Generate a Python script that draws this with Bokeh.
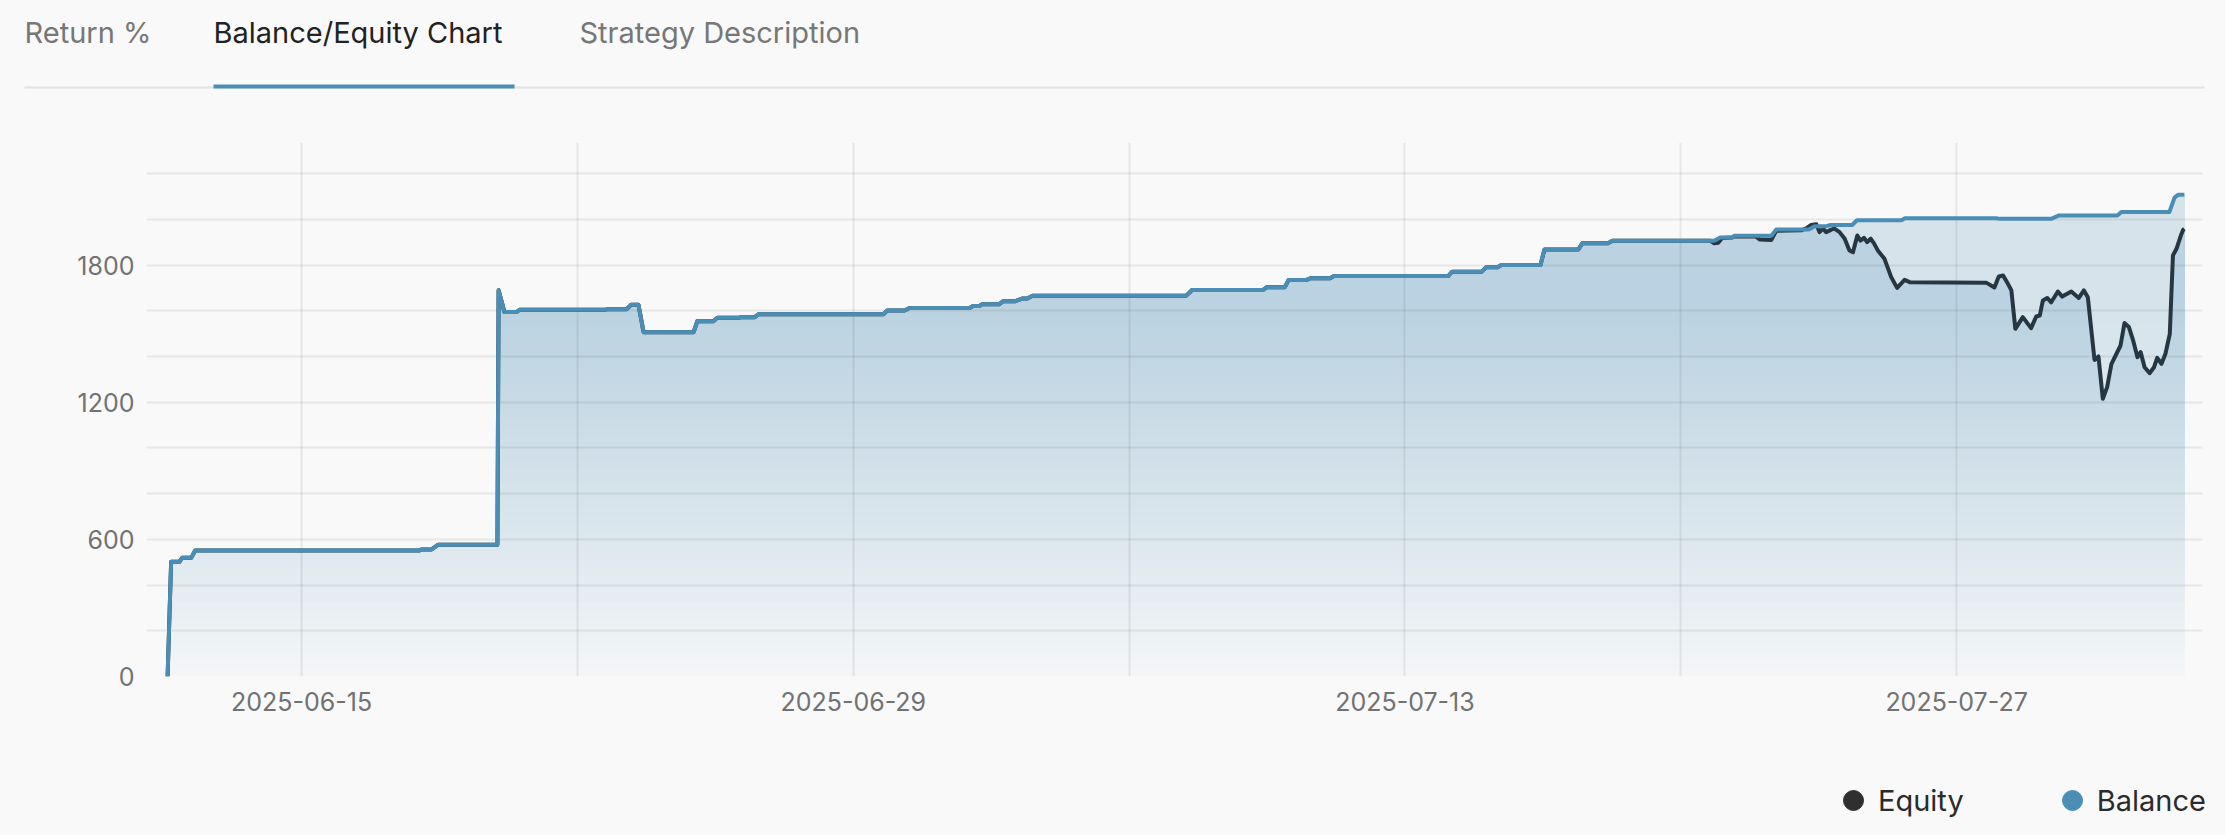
import numpy as np
import pandas as pd
from bokeh.plotting import figure
from bokeh.layouts import column
from bokeh.models import (Range1d, FixedTicker, DatetimeTickFormatter, Label,
                          BoxAnnotation, Legend, LegendItem, ColumnDataSource)
from bokeh.embed import file_html
from bokeh.resources import INLINE

# ---------------- data ----------------
# x values are days counted from 2025-06-15 00:00
BASE_DATE = "2025-06-15"

balance_day = [-3.40, -3.31, -3.10, -3.03, -2.80, -2.70, 2.98, 3.05, 3.30, 3.46,
               4.97, 5.00, 5.15, 5.45, 5.53, 7.70, 7.76, 8.25, 8.36, 8.55,
               8.68, 9.95, 10.04, 10.45, 10.55, 11.10, 11.15, 11.50, 11.60, 14.77,
               14.86, 15.30, 15.43, 16.95, 17.04, 17.20, 17.27, 17.70, 17.80, 18.10,
               18.30, 18.42, 18.55, 22.45, 22.60, 24.40, 24.50, 24.95, 25.05, 25.50,
               25.60, 26.10, 26.20, 29.10, 29.20, 29.95, 30.06, 30.35, 30.45, 31.44,
               31.54, 32.40, 32.50, 33.15, 33.27, 35.85, 36.00, 36.30, 36.36, 37.30,
               37.42, 38.25, 38.40, 38.70, 38.80, 39.35, 39.47, 40.60, 40.69, 43.00,
               43.10, 44.40, 44.60, 46.08, 46.18, 47.40, 47.53, 47.62, 47.78]
balance_val = [0, 502, 502, 519, 519, 551, 551, 556, 556, 576,
               576, 1690, 1594, 1594, 1604, 1604, 1607, 1607, 1626, 1626,
               1506, 1506, 1554, 1554, 1569, 1569, 1572, 1572, 1585, 1585,
               1601, 1601, 1612, 1612, 1621, 1621, 1628, 1628, 1641, 1641,
               1654, 1654, 1666, 1666, 1691, 1691, 1703, 1703, 1735, 1735,
               1742, 1742, 1752, 1752, 1771, 1771, 1790, 1790, 1800, 1800,
               1868, 1868, 1895, 1895, 1906, 1906, 1920, 1920, 1928, 1928,
               1955, 1955, 1970, 1970, 1975, 1975, 1996, 1996, 2005, 2005,
               2002, 2002, 2017, 2017, 2032, 2032, 2095, 2107, 2107]

# equity equals balance up to this day, then follows its own path
equity_split_day = 33.27
equity_tail_day = [35.75, 35.85, 35.95, 36.05, 36.30, 36.36, 36.90, 37.00, 37.30, 37.42,
                   38.06, 38.20, 38.31, 38.44, 38.52, 38.61, 38.69, 38.82, 38.90, 39.03,
                   39.16, 39.28, 39.37, 39.48, 39.56, 39.65, 39.73, 39.82, 39.90, 40.00,
                   40.17, 40.34, 40.49, 40.68, 40.81, 42.75, 42.96, 43.07, 43.18, 43.28,
                   43.39, 43.49, 43.68, 43.89, 44.02, 44.11, 44.19, 44.30, 44.40, 44.57,
                   44.68, 44.91, 45.10, 45.23, 45.33, 45.42, 45.50, 45.60, 45.71, 45.82,
                   45.93, 46.16, 46.26, 46.37, 46.48, 46.59, 46.67, 46.77, 46.90, 47.01,
                   47.09, 47.20, 47.30, 47.41, 47.49, 47.58, 47.69, 47.75, 47.78]
equity_tail_val = [1906, 1895, 1897, 1918, 1920, 1926, 1925, 1912, 1910, 1950,
                   1952, 1962, 1975, 1978, 1944, 1959, 1944, 1955, 1959, 1944,
                   1915, 1864, 1856, 1929, 1907, 1919, 1900, 1915, 1896, 1864,
                   1827, 1747, 1700, 1735, 1725, 1723, 1702, 1750, 1754, 1725,
                   1689, 1521, 1572, 1524, 1575, 1579, 1645, 1656, 1637, 1684,
                   1662, 1684, 1656, 1689, 1659, 1513, 1385, 1400, 1215, 1266,
                   1368, 1448, 1546, 1529, 1470, 1397, 1419, 1353, 1327, 1353,
                   1394, 1368, 1412, 1499, 1842, 1871, 1929, 1954, 1958]

x_tick_labels = ["2025-06-15", "2025-06-29", "2025-07-13", "2025-07-27"]
x_week_lines = ["2025-06-22", "2025-07-06", "2025-07-20"]
y_tick_values = [0, 600, 1200, 1800]
y_minor_values = [200, 400, 800, 1000, 1400, 1600, 2000, 2200]
tabs = ["Return %", "Balance/Equity Chart", "Strategy Description"]
series_names = ["Equity", "Balance"]

# ---------------- styling ----------------
BG = "#f9f9f9"
BG_RGB = (249, 249, 249)
BAL_COLOR = "#4a8db5"
BAL_RGB = (74, 141, 181)
EQ_COLOR = "#263741"
EQ_DOT = "#2f2f2f"
FONT = "Inter"
W = 2225
BG_STYLE = {"background-color": BG}

base = pd.Timestamp(BASE_DATE)
def to_dt(days):
    return base + pd.to_timedelta(np.asarray(days, dtype=float), unit="D")

bal_x = to_dt(balance_day)
bal_y = np.asarray(balance_val, dtype=float)
head_n = sum(1 for d in balance_day if d <= equity_split_day)
eq_x = to_dt(list(balance_day[:head_n]) + equity_tail_day)
eq_y = np.asarray(list(balance_val[:head_n]) + equity_tail_val, dtype=float)

bal_src = ColumnDataSource(dict(x=bal_x, y=bal_y))
eq_src = ColumnDataSource(dict(x=eq_x, y=eq_y))

# ---------------- header (tabs) ----------------
HEAD_H = 142
head = figure(width=W, height=HEAD_H, x_range=Range1d(0, 1), y_range=Range1d(0, 1),
              output_backend="svg", toolbar_location=None,
              x_axis_location=None, y_axis_location=None, min_border=0,
              background_fill_color=BG, border_fill_color=BG, outline_line_color=None,
              styles=BG_STYLE)
head.frame_align = False
head.grid.visible = False
tab_x = [24, 213, 579]
tab_colors = ["#777777", "#222222", "#777777"]
for t, tx, tc in zip(tabs, tab_x, tab_colors):
    head.add_layout(Label(x=tx, y=HEAD_H - 32, x_units="screen", y_units="screen", text=t,
                          text_font=FONT, text_font_size="29px", text_color=tc,
                          text_baseline="middle", text_align="left"))
head.add_layout(BoxAnnotation(left=24, right=2204, bottom=HEAD_H - 88, top=HEAD_H - 86,
                              left_units="screen", right_units="screen",
                              bottom_units="screen", top_units="screen",
                              fill_color="#e2e2e2", fill_alpha=1, line_color=None))
head.add_layout(BoxAnnotation(left=213, right=514, bottom=HEAD_H - 88, top=HEAD_H - 84,
                              left_units="screen", right_units="screen",
                              bottom_units="screen", top_units="screen",
                              fill_color=BAL_COLOR, fill_alpha=1, line_color=None))

# ---------------- main chart ----------------
Y_TOP = 2336
MAIN_H = 583
p = figure(width=W, height=MAIN_H, x_axis_type="datetime",
           x_range=Range1d(to_dt([-3.935])[0], to_dt([48.24])[0]),
           y_range=Range1d(0, Y_TOP),
           output_backend="svg", toolbar_location=None,
           min_border_left=146, min_border_right=W - 2202,
           min_border_top=0, min_border_bottom=49,
           background_fill_color=BG, border_fill_color=BG, outline_line_color=None,
           styles=BG_STYLE)
p.frame_align = False

def ms(s):
    return pd.Timestamp(s).value // 10**6

p.xaxis.ticker = FixedTicker(ticks=[ms(s) for s in x_tick_labels],
                             minor_ticks=[ms(s) for s in x_week_lines])
fmt = "%Y-%m-%d"
p.xaxis.formatter = DatetimeTickFormatter(microseconds=fmt, milliseconds=fmt, seconds=fmt,
                                          minsec=fmt, minutes=fmt, hourmin=fmt, hours=fmt,
                                          days=fmt, months=fmt, years=fmt)
p.yaxis.ticker = FixedTicker(ticks=y_tick_values, minor_ticks=y_minor_values)

for ax in (p.xaxis[0], p.yaxis[0]):
    ax.axis_line_color = None
    ax.major_tick_line_color = None
    ax.minor_tick_line_color = None
    ax.major_tick_out = 0
    ax.major_tick_in = 0
    ax.minor_tick_out = 0
    ax.minor_tick_in = 0
    ax.major_label_text_font = FONT
    ax.major_label_text_font_size = "25px"
    ax.major_label_text_color = "#727272"
p.yaxis.major_label_standoff = 12
p.xaxis.major_label_standoff = 15

for g in (p.xgrid[0], p.ygrid[0]):
    g.grid_line_color = "#000000"
    g.grid_line_alpha = 0.07
    g.grid_line_width = 2
    g.minor_grid_line_color = "#000000"
    g.minor_grid_line_alpha = 0.07
    g.minor_grid_line_width = 2

# gradient-like fills: opaque horizontal bands, each from its lower edge up to the curve
def layer_alpha(v):
    return min(0.2, 0.015 + 0.000115 * v)

def mix(a, layers):
    keep = (1 - a) ** layers
    rgb = [round(b * keep + c * (1 - keep)) for b, c in zip(BG_RGB, BAL_RGB)]
    return "#%02x%02x%02x" % tuple(rgb)

N_LAYERS = 64
step = Y_TOP / N_LAYERS
for xs, ys, layers in ((bal_x, bal_y, 1), (eq_x, eq_y, 2)):
    for k in range(N_LAYERS):
        lo = k * step
        if lo >= ys.max():
            break
        p.varea(x=xs, y1=np.minimum(ys, lo), y2=ys,
                fill_color=mix(layer_alpha(lo + step / 2), layers),
                fill_alpha=1, level="image")

p.line("x", "y", source=eq_src, line_color=EQ_COLOR, line_width=4, line_join="round")
p.line("x", "y", source=bal_src, line_color=BAL_COLOR, line_width=4, line_join="round")

# ---------------- footer (legend) ----------------
FOOT_H = 835 - HEAD_H - MAIN_H
foot = figure(width=W, height=FOOT_H, output_backend="svg", toolbar_location=None,
              x_axis_location=None, y_axis_location=None, min_border=0,
              background_fill_color=BG, border_fill_color=BG, outline_line_color=None,
              styles=BG_STYLE)
foot.frame_align = False
foot.grid.visible = False
eq_dot = foot.scatter("x", "y", source=eq_src, size=0, marker="circle",
                      fill_color=EQ_DOT, line_color=EQ_DOT)
bal_dot = foot.scatter("x", "y", source=bal_src, size=0, marker="circle",
                       fill_color=BAL_COLOR, line_color=BAL_COLOR)
legend = Legend(items=[LegendItem(label=series_names[0], renderers=[eq_dot]),
                       LegendItem(label=series_names[1], renderers=[bal_dot])],
                orientation="horizontal", location=(1828, 835 - 825),
                glyph_width=50, glyph_height=50, label_standoff=0, spacing=83,
                padding=0, margin=0, border_line_color=None,
                background_fill_alpha=0,
                label_text_font=FONT, label_text_font_size="29px",
                label_text_color="#2b2b2b")
foot.add_layout(legend)

layout = column(head, p, foot, spacing=0, styles=BG_STYLE)
open("out.html", "w").write(file_html(layout, INLINE))
